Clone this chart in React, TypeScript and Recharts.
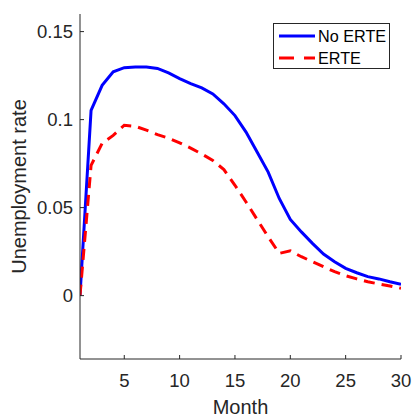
import React from 'react';
import { LineChart, Line, XAxis, YAxis, Legend } from 'recharts';

const months = [1, 2, 3, 4, 5, 6, 7, 8, 9, 10, 11, 12, 13, 14, 15, 16, 17, 18, 19, 20, 21, 22, 23, 24, 25, 26, 27, 28, 29, 30];
const noErte = [0, 0.1052, 0.1195, 0.1272, 0.1295, 0.1299, 0.1299, 0.1291, 0.1265, 0.1233, 0.1204, 0.118, 0.1146, 0.109, 0.1023, 0.0929, 0.0816, 0.0702, 0.0552, 0.0433, 0.0362, 0.0297, 0.0236, 0.0193, 0.0155, 0.013, 0.0108, 0.0095, 0.0079, 0.0065];
const erte = [0, 0.074, 0.0865, 0.091, 0.0968, 0.0962, 0.094, 0.0915, 0.0895, 0.0868, 0.0838, 0.0805, 0.0768, 0.0716, 0.0627, 0.0532, 0.0433, 0.0334, 0.024, 0.0255, 0.0221, 0.0193, 0.0164, 0.0136, 0.0113, 0.0095, 0.0079, 0.0066, 0.0055, 0.0042];
const xTicks = [5, 10, 15, 20, 25, 30];
const yTicks = [0, 0.05, 0.1, 0.15];
const xDomain = [1, 30];
const yDomain = [-0.036, 0.16];

const series = [
  { key: 'noErte', name: 'No ERTE', color: '#0000ff', dash: undefined as string | undefined },
  { key: 'erte', name: 'ERTE', color: '#ff0000', dash: '11 7' },
];

const data = months.map((m, i) => ({ month: m, noErte: noErte[i], erte: erte[i] }));

const AX = '#262626';
const FONT = '"Liberation Sans", Arial, Helvetica, sans-serif';
const TICK = 4;
const TICK_FS = 18.5;
const LABEL_FS = 20;

const BottomTick = (props: any) => {
  const { x, y, payload } = props;
  return (
    <g>
      <line x1={x} y1={y} x2={x} y2={y - TICK} stroke={AX} strokeWidth={1} />
      <text x={x} y={y + 28} textAnchor="middle" fontSize={TICK_FS} fill={AX} fontFamily={FONT}>
        {payload.value}
      </text>
    </g>
  );
};
const TopTick = (props: any) => {
  const { x, y } = props;
  return <line x1={x} y1={y} x2={x} y2={y + TICK} stroke={AX} strokeWidth={1} />;
};
const LeftTick = (props: any) => {
  const { x, y, payload } = props;
  return (
    <g>
      <line x1={x} y1={y} x2={x + TICK} y2={y} stroke={AX} strokeWidth={1} />
      <text x={x - 7} y={y + 6.6} textAnchor="end" fontSize={TICK_FS} fill={AX} fontFamily={FONT}>
        {String(payload.value)}
      </text>
    </g>
  );
};
const RightTick = (props: any) => {
  const { x, y } = props;
  return <line x1={x} y1={y} x2={x - TICK} y2={y} stroke={AX} strokeWidth={1} />;
};

const XLabel = (props: any) => {
  const { viewBox } = props;
  const cx = viewBox.x + viewBox.width / 2;
  return (
    <text x={cx} y={viewBox.y + 55} textAnchor="middle" fontSize={LABEL_FS} fill={AX} fontFamily={FONT}>
      Month
    </text>
  );
};
const YLabel = (props: any) => {
  const { viewBox } = props;
  const cy = viewBox.y + viewBox.height / 2;
  const x = viewBox.x + 26;
  return (
    <text x={x} y={cy} transform={`rotate(-90 ${x} ${cy})`} textAnchor="middle" fontSize={LABEL_FS} fill={AX} fontFamily={FONT}>
      Unemployment rate
    </text>
  );
};

const LegendBox = () => (
  <div
    style={{
      width: 117,
      height: 46,
      boxSizing: 'border-box',
      border: `1px solid ${AX}`,
      background: '#fff',
      fontFamily: FONT,
      fontSize: 16.2,
      color: '#000',
      paddingTop: 1,
      whiteSpace: 'nowrap',
    }}
  >
    {series.map((s) => (
      <div key={s.key} style={{ display: 'flex', alignItems: 'center', height: 22, whiteSpace: 'nowrap' }}>
        <svg width={40} height={10} style={{ marginLeft: 4, flexShrink: 0 }}>
          <line x1={1} y1={5} x2={37} y2={5} stroke={s.color} strokeWidth={3} strokeDasharray={s.dash ? '15 10' : undefined} />
        </svg>
        <span style={{ lineHeight: '22px', whiteSpace: 'nowrap', flexShrink: 0 }}>{s.name}</span>
      </div>
    ))}
  </div>
);

export default function App() {
  return (
    <div style={{ position: 'absolute', left: 0, top: 0, width: 414, height: 417, background: '#fff' }}>
      <LineChart width={414} height={417} data={data} margin={{ top: 14, right: 13, bottom: 0, left: 0 }}>
        <XAxis
          xAxisId="b"
          dataKey="month"
          type="number"
          domain={xDomain}
          ticks={xTicks}
          allowDataOverflow
          height={58}
          tickSize={0}
          tickMargin={0}
          tickLine={false}
          axisLine={{ stroke: AX, strokeWidth: 1 }}
          tick={<BottomTick />}
          interval={0}
          label={<XLabel />}
        />
        <XAxis
          xAxisId="t"
          orientation="top"
          dataKey="month"
          type="number"
          domain={xDomain}
          ticks={xTicks}
          allowDataOverflow
          height={0}
          tickSize={0}
          tickMargin={0}
          tickLine={false}
          axisLine={{ stroke: AX, strokeWidth: 1 }}
          tick={<TopTick />}
          interval={0}
        />
        <YAxis
          yAxisId="l"
          type="number"
          domain={yDomain}
          ticks={yTicks}
          allowDataOverflow
          width={80}
          tickSize={0}
          tickMargin={0}
          tickLine={false}
          axisLine={{ stroke: AX, strokeWidth: 1 }}
          tick={<LeftTick />}
          interval={0}
          label={<YLabel />}
        />
        <YAxis
          yAxisId="r"
          orientation="right"
          type="number"
          domain={yDomain}
          ticks={yTicks}
          allowDataOverflow
          width={0}
          tickSize={0}
          tickMargin={0}
          tickLine={false}
          axisLine={{ stroke: AX, strokeWidth: 1 }}
          tick={<RightTick />}
          interval={0}
        />
        {series.map((s) => (
          <Line
            key={s.key}
            xAxisId="b"
            yAxisId="l"
            type="linear"
            dataKey={s.key}
            name={s.name}
            stroke={s.color}
            strokeWidth={3}
            strokeDasharray={s.dash}
            dot={false}
            activeDot={false}
            isAnimationActive={false}
          />
        ))}
        <Legend
          layout="vertical"
          align="center"
          verticalAlign="middle"
          content={<LegendBox />}
          wrapperStyle={{ left: 273, top: 23, width: 117, height: 46 }}
        />
      </LineChart>
    </div>
  );
}
